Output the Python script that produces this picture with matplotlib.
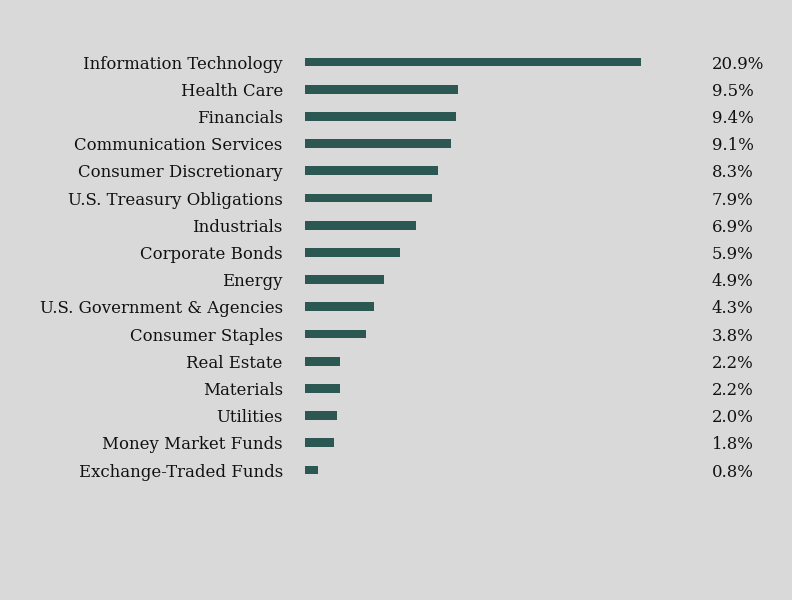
import matplotlib
matplotlib.use('Agg')
import matplotlib.pyplot as plt
from matplotlib.transforms import blended_transform_factory

sectors = [
    'Information Technology', 'Health Care', 'Financials',
    'Communication Services', 'Consumer Discretionary',
    'U.S. Treasury Obligations', 'Industrials', 'Corporate Bonds',
    'Energy', 'U.S. Government & Agencies', 'Consumer Staples',
    'Real Estate', 'Materials', 'Utilities', 'Money Market Funds',
    'Exchange-Traded Funds',
]
weights = [20.9, 9.5, 9.4, 9.1, 8.3, 7.9, 6.9, 5.9, 4.9, 4.3, 3.8,
           2.2, 2.2, 2.0, 1.8, 0.8]

BG = '#d9d9d9'
BAR = '#2b5852'
FONT = 'DejaVu Serif'
FS = 11.9

fig = plt.figure(figsize=(7.92, 6.0), dpi=100, facecolor=BG)
ax = fig.add_axes([305 / 792, 1 - 483.6 / 600, (700 - 305) / 792, 435.2 / 600])
ax.set_facecolor(BG)

y = range(len(sectors))
ax.barh(list(y), weights, height=0.33, color=BAR)
ax.set_xlim(0, (700 - 305) / 16.08)
ax.set_ylim(len(sectors) - 0.5, -0.5)

for s in ax.spines.values():
    s.set_visible(False)
ax.set_xticks([])
ax.set_yticks(list(y))
ax.set_yticklabels(sectors, fontsize=FS, family=FONT, color='#111111')
ax.tick_params(axis='y', length=0, pad=16)

tr = blended_transform_factory(fig.transFigure, ax.transData)
for i, w in enumerate(weights):
    ax.text(712 / 792, i, f'{w:.1f}%', transform=tr, ha='left',
            va='center_baseline', fontsize=FS, family=FONT, color='#111111')

fig.savefig('out.png', dpi=100, facecolor=BG)
